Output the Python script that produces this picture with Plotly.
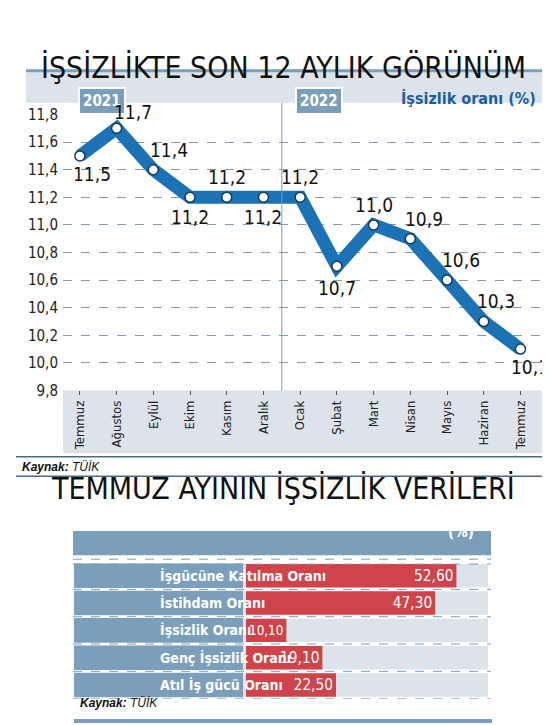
import plotly.graph_objects as go

months = ["Temmuz","Ağustos","Eylül","Ekim","Kasım","Aralık","Ocak","Şubat","Mart","Nisan","Mayıs","Haziran","Temmuz "]
rates = [11.5,11.7,11.4,11.2,11.2,11.2,11.2,10.7,11.0,10.9,10.6,10.3,10.1]
# label offsets (px) for each point label
lab_dx = [12,16,16,0,0,0,0,0,0,14,14,12,10]
lab_dy = [18,-16,-20,20,-20,20,-20,22,-20,-20,-20,-20,18]

cats = ["İşgücüne Katılma Oranı","İstihdam Oranı","İşsizlik Oranı","Genç İşsizlik Oranı","Atıl İş gücü Oranı"]
vals = [52.60,47.30,10.10,19.10,22.50]

W, H = 550, 725
def px(x): return x / W
def py(y): return 1 - y / H

NARROW = "Liberation Sans Narrow, DejaVu Sans Condensed, Arial Narrow"
steel = "#7b9fba"
light = "#dde3ea"

fig = go.Figure()
fig.add_trace(go.Scatter(
    x=list(range(len(months))), y=rates, mode="lines+markers",
    line=dict(color="#1b72b5", width=13),
    marker=dict(size=10, color="white", line=dict(color="#123a5a", width=1.5)),
    xaxis="x", yaxis="y", hoverinfo="skip"))

fig.add_trace(go.Bar(
    x=vals, y=list(range(len(cats))), orientation="h",
    marker=dict(color="#cf444a", line=dict(width=0)), width=0.86,
    text=[f"{v:.2f}".replace(".", ",") for v in vals], textposition="inside",
    insidetextanchor="end", textfont=dict(family=NARROW, size=21, color="white"),
    xaxis="x2", yaxis="y2", hoverinfo="skip"))

shapes = []
ann = []
# top header band
shapes.append(dict(type="rect", xref="paper", yref="paper", x0=px(18), x1=px(540), y0=py(88), y1=py(54),
                   fillcolor=light, line=dict(width=0), layer="below"))
shapes.append(dict(type="line", xref="paper", yref="paper", x0=px(18), x1=px(540), y0=py(55), y1=py(55),
                   line=dict(color=steel, width=3)))
# gray band under axis
shapes.append(dict(type="rect", xref="paper", yref="paper", x0=px(55), x1=px(540), y0=py(447), y1=py(383),
                   fillcolor=light, line=dict(width=0), layer="below"))
# vertical year separator
shapes.append(dict(type="line", xref="x", yref="paper", x0=5.5, x1=5.5, y0=py(383), y1=py(88),
                   line=dict(color=steel, width=1)))
# kaynak lines top
for yy in (451, 471):
    shapes.append(dict(type="line", xref="paper", yref="paper", x0=px(8), x1=px(540), y0=py(yy), y1=py(yy),
                       line=dict(color="#4a6a85", width=1.5)))

# pills
for xc, t in ((70, "2021"), (311, "2022")):
    ann.append(dict(xref="paper", yref="paper", x=px(xc), y=py(72), text=f"<b>{t}</b>", showarrow=False,
                    font=dict(family=NARROW, size=15, color="white"), bgcolor=steel,
                    bordercolor="white", borderwidth=2, borderpad=3))
ann.append(dict(xref="paper", yref="paper", x=px(530), y=py(72), xanchor="right",
                text="<b>İşsizlik oranı (%)</b>", showarrow=False,
                font=dict(family=NARROW, size=16, color="#1c5f9a")))
# titles
ann.append(dict(xref="paper", yref="paper", x=0.5, y=py(32), text="İŞSİZLİKTE SON 12 AYLIK GÖRÜNÜM",
                showarrow=False, font=dict(family=NARROW, size=30, color="#111")))
ann.append(dict(xref="paper", yref="paper", x=0.5, y=py(503), text="TEMMUZ AYININ İŞSİZLİK VERİLERİ",
                showarrow=False, font=dict(family=NARROW, size=30, color="#111")))
# kaynak
ann.append(dict(xref="paper", yref="paper", x=px(12), y=py(461), xanchor="left",
                text="<b><i>Kaynak:</i></b><i> TÜİK</i>", showarrow=False,
                font=dict(family="Liberation Sans", size=12, color="#111")))
ann.append(dict(xref="paper", yref="paper", x=px(70), y=py(713), xanchor="left",
                text="<b><i>Kaynak:</i></b><i> TÜİK</i>", showarrow=False,
                font=dict(family="Liberation Sans", size=12, color="#111")))
shapes.append(dict(type="line", xref="paper", yref="paper", x0=px(66), x1=px(484), y0=py(722), y1=py(722),
                   line=dict(color=steel, width=4)))

# point labels
for i, (m, r) in enumerate(zip(months, rates)):
    ann.append(dict(x=i, y=r, xref="x", yref="y", text=f"{r:.1f}".replace(".", ","), showarrow=False,
                    xshift=lab_dx[i], yshift=-lab_dy[i],
                    font=dict(family=NARROW, size=19, color="#111")))

# bottom header
shapes.append(dict(type="rect", xref="paper", yref="paper", x0=px(65), x1=px(483), y0=py(552), y1=py(527),
                   fillcolor=steel, line=dict(width=0), layer="below"))
ann.append(dict(xref="paper", yref="paper", x=px(468), y=py(539), xanchor="right", text="<b>(%)</b>",
                showarrow=False, font=dict(family=NARROW, size=15, color="white")))
for yy in (556, 561):
    shapes.append(dict(type="line", xref="paper", yref="paper", x0=px(65), x1=px(483), y0=py(yy), y1=py(yy),
                       line=dict(color=steel, width=1, dash="dash")))
for i, c in enumerate(cats):
    shapes.append(dict(type="rect", xref="paper", yref="y2", x0=px(235), x1=px(480), y0=i-0.43, y1=i+0.43,
                       fillcolor=light, line=dict(width=0), layer="below"))
    shapes.append(dict(type="rect", xref="paper", yref="y2", x0=px(66), x1=px(235), y0=i-0.45, y1=i+0.45,
                       fillcolor=steel, line=dict(width=0), layer="below"))
    shapes.append(dict(type="line", xref="paper", yref="y2", x0=px(65), x1=px(483), y0=i+0.5, y1=i+0.5,
                       line=dict(color=steel, width=1, dash="dash")))
    ann.append(dict(xref="paper", yref="y2", x=px(150), y=i, text=f"<b>{c}</b>", showarrow=False,
                    font=dict(family=NARROW, size=14, color="white")))

fig.update_layout(
    width=W, height=H, margin=dict(l=0, r=0, t=0, b=0), paper_bgcolor="white", plot_bgcolor="rgba(0,0,0,0)",
    showlegend=False, separators=",.", shapes=shapes, annotations=ann,
    xaxis=dict(domain=[px(55), px(540)], range=[-0.46, 12.75], tickvals=list(range(len(months))),
               ticktext=[m.strip() for m in months], tickangle=-90, showgrid=False, zeroline=False,
               ticks="outside", ticklen=4, tickcolor="#555",
               tickfont=dict(family=NARROW, size=13, color="#222"), anchor="y"),
    yaxis=dict(domain=[py(383), py(100)], range=[9.8, 11.8], dtick=0.2, tickformat=".1f",
               showgrid=True, gridcolor="#7d9bb3", griddash="dash", gridwidth=1, zeroline=False,
               tickfont=dict(family=NARROW, size=15, color="#222"), anchor="x", ticklabelstandoff=4),
    xaxis2=dict(domain=[px(238), px(480)], range=[0, 60.5], visible=False, anchor="y2"),
    yaxis2=dict(domain=[py(699), py(559)], range=[4.5, -0.5], visible=False, anchor="x2"),
)
fig.write_html("out.html")
